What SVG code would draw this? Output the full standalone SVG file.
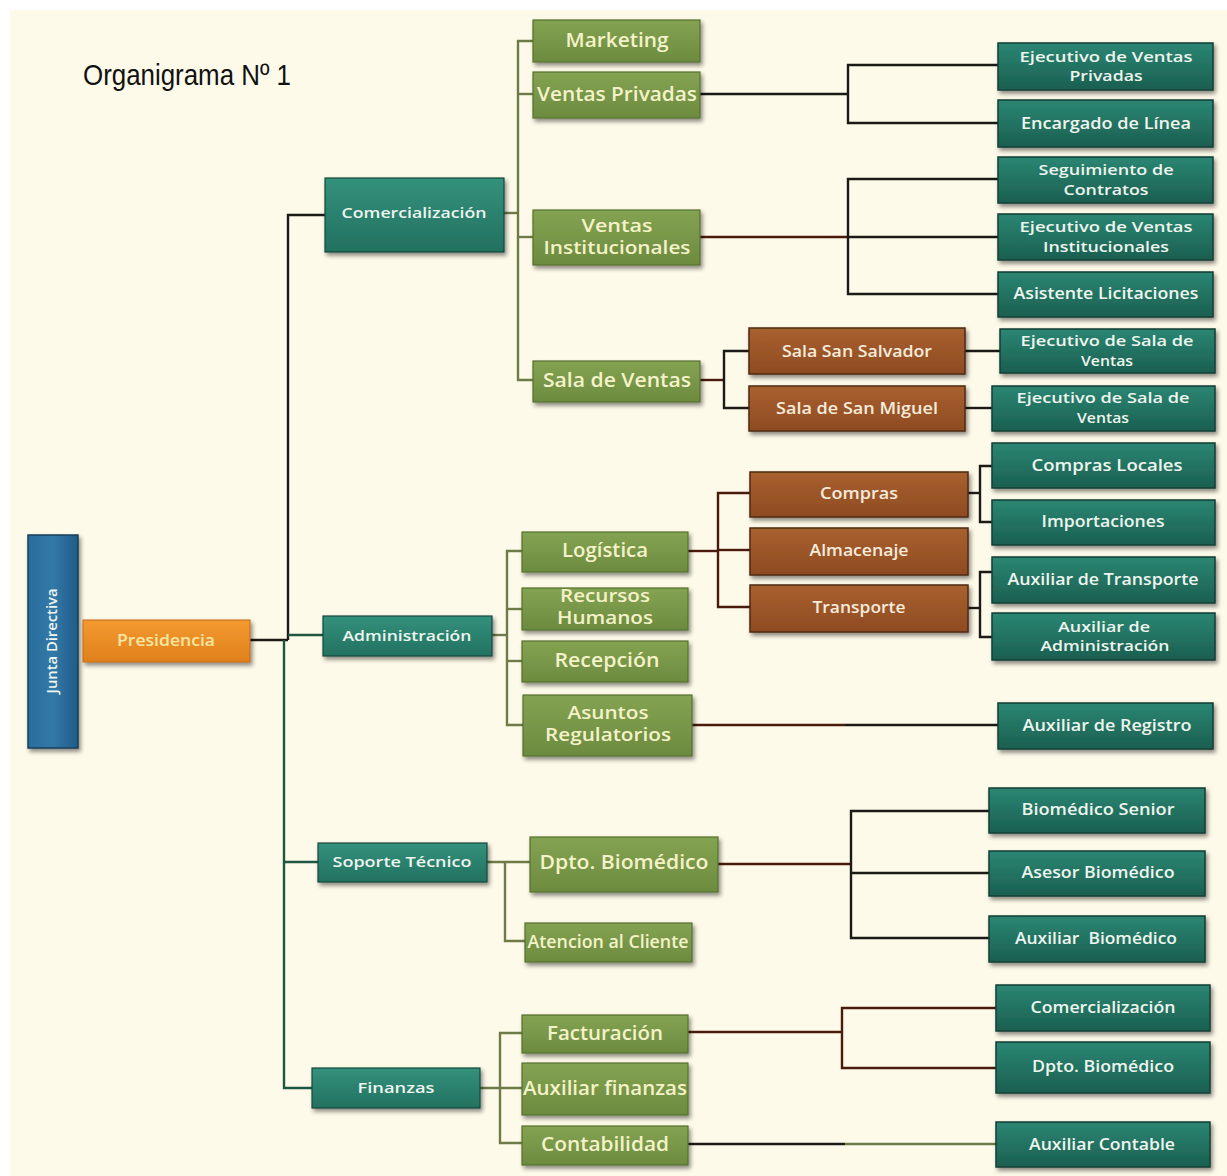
<svg xmlns="http://www.w3.org/2000/svg" width="1227" height="1176" viewBox="0 0 1227 1176">
<defs>
<linearGradient id="gTeal" x1="0" y1="0" x2="0" y2="1"><stop offset="0" stop-color="#2b8673"/><stop offset="1" stop-color="#1b5f50"/></linearGradient>
<linearGradient id="gTealL" x1="0" y1="0" x2="0" y2="1"><stop offset="0" stop-color="#33917c"/><stop offset="1" stop-color="#237160"/></linearGradient>
<linearGradient id="gGreen" x1="0" y1="0" x2="0" y2="1"><stop offset="0" stop-color="#84a352"/><stop offset="1" stop-color="#6c8b3f"/></linearGradient>
<linearGradient id="gBrown" x1="0" y1="0" x2="0" y2="1"><stop offset="0" stop-color="#a9602f"/><stop offset="1" stop-color="#8e4b22"/></linearGradient>
<linearGradient id="gOrange" x1="0" y1="0" x2="0" y2="1"><stop offset="0" stop-color="#f39a30"/><stop offset="1" stop-color="#e0801c"/></linearGradient>
<linearGradient id="gBlue" x1="0" y1="0" x2="1" y2="0"><stop offset="0" stop-color="#2a6d9c"/><stop offset="0.5" stop-color="#3279a8"/><stop offset="1" stop-color="#215c88"/></linearGradient>
<filter id="sh" x="-10%" y="-20%" width="125%" height="150%"><feDropShadow dx="2" dy="3" stdDeviation="2" flood-color="#000" flood-opacity="0.45"/></filter>
<style>
.teal{fill:url(#gTeal);stroke:#123f35;stroke-width:1.5;filter:url(#sh)}
.tealL{fill:url(#gTealL);stroke:#16493d;stroke-width:1.2;filter:url(#sh)}
.green{fill:url(#gGreen);stroke:#55702e;stroke-width:1.2;filter:url(#sh)}
.brown{fill:url(#gBrown);stroke:#4e2a10;stroke-width:1.5;filter:url(#sh)}
.orange{fill:url(#gOrange);stroke:#c26a12;stroke-width:1;filter:url(#sh)}
.blue{fill:url(#gBlue);stroke:#173f5c;stroke-width:1.5;filter:url(#sh)}
text{font-family:"Open Sans","Noto Sans","DejaVu Sans",sans-serif;text-anchor:middle;font-weight:600}
.tw{fill:#eef5ee;font-size:16px}
.tw2{fill:#eef5ee;font-size:15px}
.tg{fill:#f4f2c8;font-size:19px}
.tg2{fill:#f4f2c8;font-size:17.5px}
.tb{fill:#f7ecdc;font-size:16px}
.to{fill:#f6e7a2;font-size:16px}
.ln{fill:none;stroke-width:2.4}
.k{stroke:#1b1a16}
.r{stroke:#4a1a0c}
.o{stroke:#6e7a48}
.dg{stroke:#1e5642}
</style>
</defs>
<rect x="0" y="0" width="1227" height="1176" fill="#ffffff"/>
<rect x="10" y="10" width="1217" height="1166" fill="#fefae9"/>
<text x="83" y="85" style="font-family:'Liberation Sans',Arial,sans-serif;font-weight:400;text-anchor:start;font-size:30px" fill="#111" textLength="208" lengthAdjust="spacingAndGlyphs">Organigrama Nº 1</text>

<g id="connectors">
<polyline class="ln k" points="250,640 288,640"/>
<polyline class="ln k" points="325,215 288,215 288,640"/>
<polyline class="ln dg" points="284,640 284,1088 312,1088"/>
<polyline class="ln dg" points="288,635 323,635"/>
<polyline class="ln dg" points="284,862 318,862"/>
<polyline class="ln o" points="504,213 518,213"/>
<polyline class="ln o" points="533,41 518,41 518,380 533,380"/>
<polyline class="ln o" points="518,94 533,94"/>
<polyline class="ln o" points="518,237 533,237"/>
<polyline class="ln k" points="700,94 848,94"/>
<polyline class="ln k" points="998,65 848,65 848,123 998,123"/>
<polyline class="ln r" points="700,237 848,237"/>
<polyline class="ln k" points="998,179 848,179 848,294 998,294"/>
<polyline class="ln k" points="848,237 998,237"/>
<polyline class="ln r" points="700,380 724,380"/>
<polyline class="ln k" points="749,351 724,351 724,408 749,408"/>
<polyline class="ln k" points="965,351 1000,351"/>
<polyline class="ln k" points="965,408 992,408"/>
<polyline class="ln o" points="492,635 507,635"/>
<polyline class="ln o" points="522,551 507,551 507,725 523,725"/>
<polyline class="ln o" points="507,609 522,609"/>
<polyline class="ln o" points="507,661 522,661"/>
<polyline class="ln r" points="688,551 718,551"/>
<polyline class="ln r" points="750,493 718,493 718,607 750,607"/>
<polyline class="ln r" points="718,550 750,550"/>
<polyline class="ln k" points="968,493 980,493"/>
<polyline class="ln k" points="992,466 980,466 980,522 992,522"/>
<polyline class="ln k" points="968,608 980,608"/>
<polyline class="ln k" points="992,572 980,572 980,637 992,637"/>
<polyline class="ln r" points="692,725 845,725"/>
<polyline class="ln k" points="845,725 998,725"/>
<polyline class="ln o" points="487,862 530,862"/>
<polyline class="ln o" points="505,862 505,941 525,941"/>
<polyline class="ln r" points="718,864 851,864"/>
<polyline class="ln k" points="989,811 851,811 851,938 989,938"/>
<polyline class="ln k" points="851,873 989,873"/>
<polyline class="ln o" points="480,1088 522,1088"/>
<polyline class="ln o" points="522,1033 500,1033 500,1143 522,1143"/>
<polyline class="ln r" points="688,1032 842,1032"/>
<polyline class="ln r" points="996,1008 842,1008 842,1068 996,1068"/>
<polyline class="ln k" points="688,1144 845,1144"/>
<polyline class="ln o" points="845,1144 996,1144"/>
</g>

<g id="n-junta"><rect class="blue" x="28" y="535" width="50" height="213"/><text class="tw2" transform="translate(57,641) rotate(-90)" textLength="105" lengthAdjust="spacingAndGlyphs">Junta Directiva</text></g>
<g id="n-presidencia"><rect class="orange" x="83" y="620" width="167" height="42"/><text class="to" x="166" y="646" textLength="98" lengthAdjust="spacingAndGlyphs">Presidencia</text></g>

<g id="n-comercializacion"><rect class="tealL" x="325" y="178" width="179" height="74"/><text class="tw2" x="414" y="218" textLength="145" lengthAdjust="spacingAndGlyphs">Comercialización</text></g>
<g id="n-administracion"><rect class="tealL" x="323" y="616" width="169" height="40"/><text class="tw2" x="407" y="641" textLength="129" lengthAdjust="spacingAndGlyphs">Administración</text></g>
<g id="n-soporte"><rect class="tealL" x="318" y="843" width="169" height="39"/><text class="tw2" x="402" y="867" textLength="139" lengthAdjust="spacingAndGlyphs">Soporte Técnico</text></g>
<g id="n-finanzas"><rect class="tealL" x="312" y="1068" width="168" height="40"/><text class="tw2" x="396" y="1093" textLength="77" lengthAdjust="spacingAndGlyphs">Finanzas</text></g>

<g id="n-marketing"><rect class="green" x="533" y="20" width="167" height="42"/><text class="tg" x="617" y="47" textLength="103" lengthAdjust="spacingAndGlyphs">Marketing</text></g>
<g id="n-ventas-privadas"><rect class="green" x="533" y="72" width="167" height="46"/><text class="tg" x="617" y="101" textLength="160" lengthAdjust="spacingAndGlyphs">Ventas Privadas</text></g>
<g id="n-ventas-inst"><rect class="green" x="533" y="210" width="167" height="55"/><text class="tg2" x="617" y="232" textLength="71" lengthAdjust="spacingAndGlyphs">Ventas</text><text class="tg2" x="617" y="254" textLength="147" lengthAdjust="spacingAndGlyphs">Institucionales</text></g>
<g id="n-sala-ventas"><rect class="green" x="533" y="361" width="167" height="41"/><text class="tg" x="617" y="387" textLength="148" lengthAdjust="spacingAndGlyphs">Sala de Ventas</text></g>
<g id="n-logistica"><rect class="green" x="522" y="532" width="166" height="40"/><text class="tg" x="605" y="557" textLength="86" lengthAdjust="spacingAndGlyphs">Logística</text></g>
<g id="n-rrhh"><rect class="green" x="522" y="588" width="166" height="42"/><text class="tg2" x="605" y="602" textLength="90" lengthAdjust="spacingAndGlyphs">Recursos</text><text class="tg2" x="605" y="624" textLength="96" lengthAdjust="spacingAndGlyphs">Humanos</text></g>
<g id="n-recepcion"><rect class="green" x="522" y="641" width="166" height="41"/><text class="tg" x="607" y="667" textLength="105" lengthAdjust="spacingAndGlyphs">Recepción</text></g>
<g id="n-asuntos"><rect class="green" x="523" y="695" width="169" height="61"/><text class="tg2" x="608" y="719" textLength="81" lengthAdjust="spacingAndGlyphs">Asuntos</text><text class="tg2" x="608" y="741" textLength="126" lengthAdjust="spacingAndGlyphs">Regulatorios</text></g>
<g id="n-dpto-bio"><rect class="green" x="530" y="837" width="188" height="55"/><text class="tg" x="624" y="869" textLength="169" lengthAdjust="spacingAndGlyphs">Dpto. Biomédico</text></g>
<g id="n-atencion"><rect class="green" x="525" y="923" width="167" height="39"/><text class="tg2" x="608" y="948" textLength="161" lengthAdjust="spacingAndGlyphs">Atencion al Cliente</text></g>
<g id="n-facturacion"><rect class="green" x="522" y="1015" width="166" height="38"/><text class="tg" x="605" y="1040" textLength="116" lengthAdjust="spacingAndGlyphs">Facturación</text></g>
<g id="n-aux-finanzas"><rect class="green" x="522" y="1063" width="166" height="52"/><text class="tg" x="605" y="1095" textLength="164" lengthAdjust="spacingAndGlyphs">Auxiliar finanzas</text></g>
<g id="n-contabilidad"><rect class="green" x="522" y="1126" width="166" height="39"/><text class="tg" x="605" y="1151" textLength="128" lengthAdjust="spacingAndGlyphs">Contabilidad</text></g>

<g id="n-sala-ss"><rect class="brown" x="749" y="328" width="216" height="46"/><text class="tb" x="857" y="357" textLength="150" lengthAdjust="spacingAndGlyphs">Sala San Salvador</text></g>
<g id="n-sala-sm"><rect class="brown" x="749" y="386" width="216" height="45"/><text class="tb" x="857" y="414" textLength="162" lengthAdjust="spacingAndGlyphs">Sala de San Miguel</text></g>
<g id="n-compras"><rect class="brown" x="750" y="472" width="218" height="45"/><text class="tb" x="859" y="499" textLength="78" lengthAdjust="spacingAndGlyphs">Compras</text></g>
<g id="n-almacenaje"><rect class="brown" x="750" y="528" width="218" height="47"/><text class="tb" x="859" y="556" textLength="99" lengthAdjust="spacingAndGlyphs">Almacenaje</text></g>
<g id="n-transporte"><rect class="brown" x="750" y="585" width="218" height="47"/><text class="tb" x="859" y="613" textLength="93" lengthAdjust="spacingAndGlyphs">Transporte</text></g>

<g id="n-ejec-vp"><rect class="teal" x="998" y="43" width="215" height="47"/><text class="tw2" x="1106" y="62" textLength="173" lengthAdjust="spacingAndGlyphs">Ejecutivo de Ventas</text><text class="tw2" x="1106" y="81" textLength="73" lengthAdjust="spacingAndGlyphs">Privadas</text></g>
<g id="n-encargado"><rect class="teal" x="998" y="100" width="215" height="47"/><text class="tw" x="1106" y="129" textLength="170" lengthAdjust="spacingAndGlyphs">Encargado de Línea</text></g>
<g id="n-seguimiento"><rect class="teal" x="998" y="157" width="215" height="46"/><text class="tw2" x="1106" y="175" textLength="135" lengthAdjust="spacingAndGlyphs">Seguimiento de</text><text class="tw2" x="1106" y="195" textLength="85" lengthAdjust="spacingAndGlyphs">Contratos</text></g>
<g id="n-ejec-vi"><rect class="teal" x="998" y="214" width="215" height="46"/><text class="tw2" x="1106" y="232" textLength="173" lengthAdjust="spacingAndGlyphs">Ejecutivo de Ventas</text><text class="tw2" x="1106" y="252" textLength="126" lengthAdjust="spacingAndGlyphs">Institucionales</text></g>
<g id="n-asistente"><rect class="teal" x="998" y="272" width="215" height="45"/><text class="tw" x="1106" y="299" textLength="185" lengthAdjust="spacingAndGlyphs">Asistente Licitaciones</text></g>
<g id="n-ejec-sala1"><rect class="teal" x="1000" y="329" width="215" height="44"/><text class="tw2" x="1107" y="346" textLength="173" lengthAdjust="spacingAndGlyphs">Ejecutivo de Sala de</text><text class="tw2" x="1107" y="366" textLength="52" lengthAdjust="spacingAndGlyphs">Ventas</text></g>
<g id="n-ejec-sala2"><rect class="teal" x="992" y="386" width="223" height="45"/><text class="tw2" x="1103" y="403" textLength="173" lengthAdjust="spacingAndGlyphs">Ejecutivo de Sala de</text><text class="tw2" x="1103" y="423" textLength="52" lengthAdjust="spacingAndGlyphs">Ventas</text></g>
<g id="n-compras-loc"><rect class="teal" x="992" y="443" width="223" height="45"/><text class="tw" x="1107" y="471" textLength="151" lengthAdjust="spacingAndGlyphs">Compras Locales</text></g>
<g id="n-importaciones"><rect class="teal" x="992" y="500" width="223" height="45"/><text class="tw" x="1103" y="527" textLength="123" lengthAdjust="spacingAndGlyphs">Importaciones</text></g>
<g id="n-aux-transporte"><rect class="teal" x="992" y="557" width="223" height="46"/><text class="tw" x="1103" y="585" textLength="191" lengthAdjust="spacingAndGlyphs">Auxiliar de Transporte</text></g>
<g id="n-aux-admin"><rect class="teal" x="992" y="613" width="223" height="47"/><text class="tw2" x="1104" y="632" textLength="92" lengthAdjust="spacingAndGlyphs">Auxiliar de</text><text class="tw2" x="1105" y="651" textLength="129" lengthAdjust="spacingAndGlyphs">Administración</text></g>
<g id="n-aux-registro"><rect class="teal" x="998" y="703" width="215" height="46"/><text class="tw" x="1107" y="731" textLength="169" lengthAdjust="spacingAndGlyphs">Auxiliar de Registro</text></g>
<g id="n-bio-senior"><rect class="teal" x="989" y="788" width="216" height="45"/><text class="tw" x="1098" y="815" textLength="153" lengthAdjust="spacingAndGlyphs">Biomédico Senior</text></g>
<g id="n-asesor-bio"><rect class="teal" x="989" y="851" width="216" height="45"/><text class="tw" x="1098" y="878" textLength="153" lengthAdjust="spacingAndGlyphs">Asesor Biomédico</text></g>
<g id="n-aux-bio"><rect class="teal" x="989" y="916" width="216" height="46"/><text class="tw" x="1096" y="944" textLength="162" lengthAdjust="spacingAndGlyphs" style="white-space:pre">Auxiliar  Biomédico</text></g>
<g id="n-comerc2"><rect class="teal" x="996" y="985" width="214" height="46"/><text class="tw" x="1103" y="1013" textLength="145" lengthAdjust="spacingAndGlyphs">Comercialización</text></g>
<g id="n-dpto-bio2"><rect class="teal" x="996" y="1042" width="214" height="51"/><text class="tw" x="1103" y="1072" textLength="142" lengthAdjust="spacingAndGlyphs">Dpto. Biomédico</text></g>
<g id="n-aux-contable"><rect class="teal" x="996" y="1122" width="214" height="45"/><text class="tw" x="1102" y="1150" textLength="146" lengthAdjust="spacingAndGlyphs">Auxiliar Contable</text></g>
</svg>
